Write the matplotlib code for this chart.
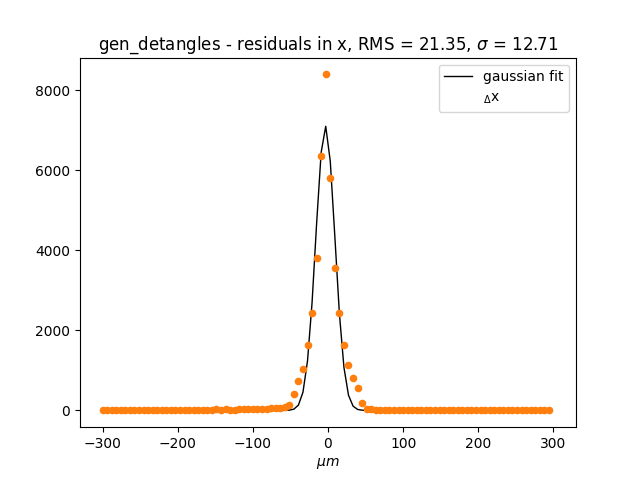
import numpy as np
import matplotlib
matplotlib.use('Agg')
import matplotlib.pyplot as plt
from matplotlib.lines import Line2D

# bin left edges of the residual histogram (99 bins between -300 and 300)
bin_x = np.linspace(-300, 300, 100)[:-1]

# histogram counts
counts = ([2, 1, 3, 2, 4, 1, 3, 5, 2, 4, 3, 5, 4, 6, 5, 6, 7, 6, 8, 7, 9, 8, 10, 9]
          + [10, 35, 15, 30, 18, 22, 32, 28, 25, 27, 32, 38, 42, 50, 58, 68]
          + [84]
          + [143, 400, 725, 1025, 1630, 2437, 3800, 6340, 8390, 5810, 3545, 2420,
             1630, 1126, 803, 550, 197]
          + [25, 30]
          + [2, 1, 0, 1, 2, 0, 1, 1, 0, 2, 1, 0, 1, 1, 0, 2, 1, 0, 1, 0,
             1, 2, 0, 1, 0, 1, 1, 0, 2, 1, 0, 1, 0, 1, 2, 0, 1, 0, 1])

# gaussian fit evaluated at the same bins
fit = ([0] * 41
       + [6, 31, 132, 452, 1234, 2689, 4665, 6445, 7095, 6220, 4347, 2421,
          1073, 379, 107, 24, 5]
       + [0] * 41)

title = r'gen_detangles - residuals in x, RMS = 21.35, $\sigma$ = 12.71'

fig, ax = plt.subplots(figsize=(6.4, 4.8), dpi=100)
ax.plot(bin_x, fit, color='black', linewidth=1, label='gaussian fit')
ax.scatter(bin_x, counts, s=20, color='C1', zorder=3)

handles = [Line2D([], [], color='black', linewidth=1),
           Line2D([], [], linestyle='none', marker=None)]
ax.legend(handles, ['gaussian fit', r'$_\Delta$x'], loc='upper right')

ax.set_xlim(-330, 330)
ax.set_title(title)
ax.set_xlabel(r'$\mu m$')
fig.savefig('out.png')
